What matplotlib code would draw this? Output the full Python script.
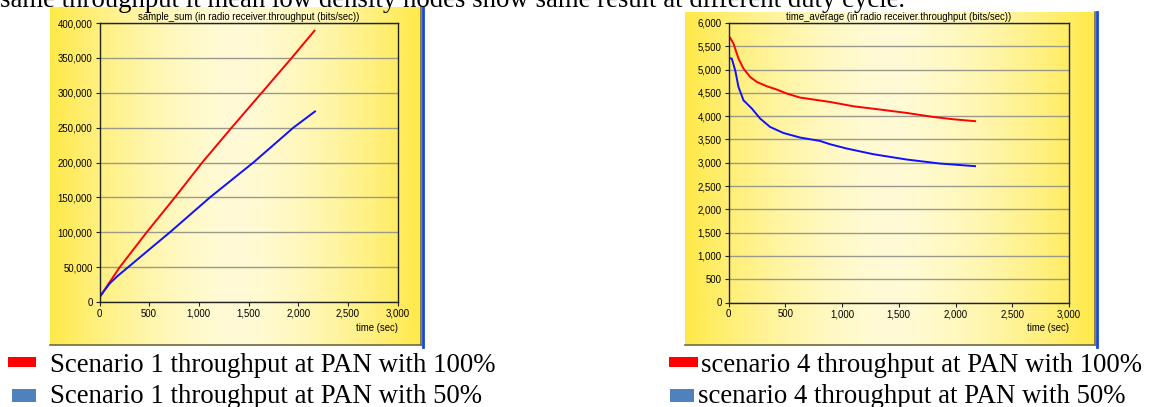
import numpy as np
import matplotlib
matplotlib.use("Agg")
import matplotlib.pyplot as plt
from matplotlib.patches import Rectangle
from matplotlib.lines import Line2D
from matplotlib.ticker import FuncFormatter

# sample_sum (scenario 1)
sum_t_100 = [0, 204, 475, 759, 1034, 1330, 1633, 1935, 2170]
sum_v_100 = [6700, 50000, 100000, 150000, 200000, 250000, 300000, 350000, 390000]
sum_t_50 = [0, 53, 104, 180, 289, 490, 709, 1112, 1549, 1952, 2177]
sum_v_50 = [6700, 17200, 26800, 37000, 50000, 74000, 100000, 150000, 200000, 250000, 274000]

# time_average (scenario 4)
avg_t_100 = [0, 15, 44, 88, 132, 191, 250, 338, 426, 514, 631, 895, 1101, 1336, 1571, 1805, 1981, 2181]
avg_v_100 = [5721, 5680, 5558, 5236, 5021, 4841, 4734, 4642, 4571, 4485, 4399, 4305, 4212, 4142, 4069,
             3983, 3933, 3891]
avg_t_50 = [0, 29, 59, 88, 132, 206, 279, 367, 484, 631, 807, 895, 1042, 1277, 1571, 1864, 2181]
avg_v_50 = [5249, 5236, 4985, 4627, 4341, 4163, 3948, 3768, 3639, 3541, 3468, 3397, 3305, 3183, 3069,
            2983, 2925]

W, H = 1151, 407
fig = plt.figure(figsize=(W / 100, H / 100), dpi=100)


def box(x0, y0, x1, y1):
    # pixel box (top-left origin) -> figure rect
    return [x0 / W, 1 - y1 / H, (x1 - x0) / W, (y1 - y0) / H]


def panel(x0, y0, x1, y1):
    bg = fig.add_axes(box(x0, y0, x1, y1), zorder=0)
    u = np.linspace(-1, 1, 400)
    k = np.abs(u) ** 1.6
    edge = np.array([255, 233, 72]) / 255
    mid = np.array([255, 251, 214]) / 255
    img = mid[None, :] + (edge - mid)[None, :] * k[:, None]
    bg.imshow(img[None, :, :], aspect="auto", extent=[0, 1, 0, 1])
    bg.set_xlim(0, 1)
    bg.set_ylim(0, 1)
    bg.set_xticks([])
    bg.set_yticks([])
    for s in ("top", "left"):
        bg.spines[s].set_visible(False)
    for s in ("right", "bottom"):
        bg.spines[s].set_color("#6f6a45")
        bg.spines[s].set_linewidth(1.2)
    # blue frame edge on the right
    xb = (x1 + 2) / W
    fig.add_artist(Line2D([xb, xb], [1 - (y1 + 2) / H, 1 - y0 / H], color="#1846d6", lw=2.0))


def chart(rect, ymax, ystep, title, series):
    ax = fig.add_axes(rect, zorder=1)
    ax.set_facecolor("none")
    for t, v, c in series:
        ax.plot(t, v, color=c, lw=1.4, solid_capstyle="butt", solid_joinstyle="round")
    ax.set_xlim(0, 3000)
    ax.set_ylim(0, ymax)
    ax.set_xticks(np.arange(0, 3001, 500))
    ax.set_yticks(np.arange(0, ymax + 1, ystep))
    fmt = FuncFormatter(lambda v, p: f"{int(v):,}")
    ax.xaxis.set_major_formatter(fmt)
    ax.yaxis.set_major_formatter(fmt)
    ax.grid(axis="y", color="#9a9a8a", lw=1.0)
    ax.set_axisbelow(True)
    for s in ax.spines.values():
        s.set_color("#222222")
        s.set_linewidth(1.0)
    ax.tick_params(length=3, width=0.8, color="#222222", labelsize=6.9, pad=2)
    ax.set_title(title, fontsize=6.9, pad=2, family="Liberation Sans")
    ax.text(1.0, -0.075, "time (sec)", transform=ax.transAxes, ha="right", va="top",
            fontsize=6.9, family="Liberation Sans")
    for lab in ax.get_xticklabels() + ax.get_yticklabels():
        lab.set_family("Liberation Sans")
    return ax


panel(50, 7, 421, 345)
panel(685, 12, 1095, 345)

chart(box(99.5, 23, 397.5, 302), 400000, 50000,
      "sample_sum (in radio receiver.throughput (bits/sec))",
      [(sum_t_100, sum_v_100, "#ff0000"), (sum_t_50, sum_v_50, "#1010ff")])
chart(box(728.5, 23, 1069, 302.5), 6000, 500,
      "time_average (in radio receiver.throughput (bits/sec))",
      [(avg_t_100, avg_v_100, "#ff0000"), (avg_t_50, avg_v_50, "#1010ff")])

serif = dict(family="Liberation Serif", fontsize=19.3, va="baseline", color="black")

# sentence running off the top edge
fig.text(0 / W, 1 - 7 / H,
         "same throughput it mean low density nodes show same result at different duty cycle.",
         **serif)


def legend_row(px0, px1, py0, py1, color, tx, ty, label):
    fig.add_artist(Rectangle((px0 / W, 1 - py1 / H), (px1 - px0) / W, (py1 - py0) / H,
                             transform=fig.transFigure, color=color, lw=0))
    fig.text(tx / W, 1 - ty / H, label, **serif)


legend_row(8, 36, 357, 367, "#ff0000", 50, 372, "Scenario 1 throughput at PAN with 100%")
legend_row(12, 36, 389, 402, "#4f81bd", 50, 403, "Scenario 1 throughput at PAN with 50%")
legend_row(669, 698, 357, 367, "#ff0000", 701, 372, "scenario 4 throughput at PAN with 100%")
legend_row(670, 694, 389, 402, "#4f81bd", 698, 403, "scenario 4 throughput at PAN with 50%")

fig.savefig("out.png", dpi=100)
